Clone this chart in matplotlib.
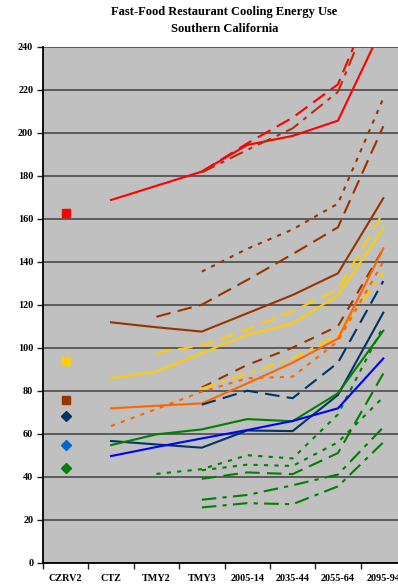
import numpy as np
import matplotlib
matplotlib.use('Agg')
import matplotlib.pyplot as plt

categories = ['CZRV2', 'CTZ', 'TMY2', 'TMY3', '2005-14', '2035-44', '2055-64', '2095-94']
nan = np.nan

# CZRV2 single points
czrv2_red = 162.5
czrv2_gold = 94
czrv2_brown = 75.7
czrv2_navy = 68.2
czrv2_ltblue = 54.7
czrv2_green = 44.2

# series (values per category, nan = no value)
red_solid = [nan, 168.7, 175.3, 181.9, 194.3, 198.5, 205.6, 250]
red_dash = [nan, nan, nan, 181.9, 195, 207, 222.5, 273]
redbrown_dashdot = [nan, nan, nan, 181.5, 192, 202, 219, 270]

brown_solid = [nan, 111.8, 109.5, 107.5, 116, 124.5, 134.6, 169.5]
brown_dash = [nan, nan, 114.4, 120, 131.5, 143.5, 156, 203]
brown_dot = [nan, nan, nan, 135.4, 146, 155, 167, 216]
brown_dash_low = [nan, nan, nan, 81.5, 92, 100, 110, 146]

gold_solid = [nan, 85.8, 88.9, 97.5, 106, 111.3, 124.3, 155.5]
gold_dash = [nan, nan, 97.7, 101, 108.5, 117, 127, 163]
gold_dash_low = [nan, nan, nan, 81, 88, 95, 106, 135]

orange_solid = [nan, 71.8, 73, 74.1, 83.4, 93, 104.2, 146.2]
orange_dot = [nan, 63.6, 71.5, 79.5, 85.8, 86.5, 103, 140]

navy_solid = [nan, 56.6, 55, 53.5, 61.5, 61.2, 78, 116.3]
navy_dash = [nan, nan, nan, 73.5, 80, 76.5, 93, 131]

green_solid = [nan, 54.7, 59.7, 62, 66.8, 65.8, 78.8, 107.9]
green_dot1 = [nan, nan, 41.3, 43.5, 50, 48.5, 69, 110]
green_dot2 = [nan, nan, nan, 43, 45.6, 45, 56, 77]
green_dash = [nan, nan, nan, 39, 42, 41.2, 51, 88]
green_dashdot1 = [nan, nan, nan, 29.3, 31.5, 36, 41, 63]
green_dashdot2 = [nan, nan, nan, 25.7, 27.7, 27.2, 35.5, 56]

blue_solid = [nan, 49.6, 53.8, 57.8, 61.7, 65.9, 71.8, 95]

RED = '#FF0000'
BROWN = '#993300'
REDBROWN = '#B5300C'
GOLD = '#FFCC00'
ORANGE = '#FF6600'
NAVY = '#003366'
GREEN = '#008000'
BLUE = '#0000FF'
LTBLUE = '#0066CC'

LONG = (0, (7, 3.5))
DOT = (0, (2, 3))
DASHDOT = (0, (7, 3, 2, 3))
MED = (0, (5, 4))

fig = plt.figure(figsize=(3.98, 5.87), dpi=100)
ax = fig.add_axes([43 / 398, 24.3 / 587, 363 / 398, 516 / 587])
ax.set_facecolor('#C0C0C0')

x = np.arange(len(categories))

lines = [
    (red_solid, RED, '-'), (red_dash, RED, LONG), (redbrown_dashdot, REDBROWN, DASHDOT),
    (brown_solid, BROWN, '-'), (brown_dash, BROWN, LONG), (brown_dot, BROWN, DOT),
    (brown_dash_low, BROWN, MED),
    (gold_solid, GOLD, '-'), (gold_dash, GOLD, LONG), (gold_dash_low, GOLD, DASHDOT),
    (orange_solid, ORANGE, '-'), (orange_dot, ORANGE, DOT),
    (navy_solid, NAVY, '-'), (navy_dash, NAVY, LONG),
    (green_solid, GREEN, '-'), (green_dot1, GREEN, DOT), (green_dot2, GREEN, DOT),
    (green_dash, GREEN, LONG), (green_dashdot1, GREEN, DASHDOT), (green_dashdot2, GREEN, DASHDOT),
    (blue_solid, BLUE, '-'),
]
for vals, c, ls in lines:
    ax.plot(x, vals, color=c, linestyle=ls, lw=1.5, zorder=3)

ax.plot(0, czrv2_red, 's', color=RED, ms=6, zorder=4)
ax.plot(0, czrv2_gold, 's', color=GOLD, ms=6, zorder=4)
ax.plot(0, czrv2_brown, 's', color=BROWN, ms=6, zorder=4)
ax.plot(0, czrv2_navy, 'D', color=NAVY, ms=5, zorder=4)
ax.plot(0, czrv2_ltblue, 'D', color=LTBLUE, ms=5, zorder=4)
ax.plot(0, czrv2_green, 'D', color=GREEN, ms=5, zorder=4)

ax.set_xlim(-0.5, 7.5)
ax.set_ylim(0, 240)
ax.set_yticks(np.arange(0, 241, 20))
ax.yaxis.grid(True, color='#404040', lw=1.1)
ax.set_axisbelow(True)

ax.set_xticks(x)
ax.set_xticklabels(categories)
ax.set_xticks(np.arange(-0.5, 8, 1), minor=True)
ax.tick_params(axis='x', which='major', length=0, pad=8)
ax.tick_params(axis='x', which='minor', length=4, width=1, color='#202020')
ax.tick_params(axis='y', length=4, width=1, pad=3, color='#202020')

for lab in ax.get_xticklabels() + ax.get_yticklabels():
    lab.set_family('Liberation Serif')
    lab.set_fontweight('bold')
    lab.set_fontsize(7.3)

for s in ['top', 'right']:
    ax.spines[s].set_visible(False)
ax.spines['left'].set_linewidth(1.3)
ax.spines['bottom'].set_linewidth(1.3)

fig.text(224.5 / 398, 1 - 12.5 / 587, 'Fast-Food Restaurant Cooling Energy Use',
         ha='center', va='center', family='Liberation Serif', fontweight='bold', fontsize=9.0)
fig.text(224.5 / 398, 1 - 28.5 / 587, 'Southern California',
         ha='center', va='center', family='Liberation Serif', fontweight='bold', fontsize=9.0)

fig.savefig('out.png', dpi=100)
